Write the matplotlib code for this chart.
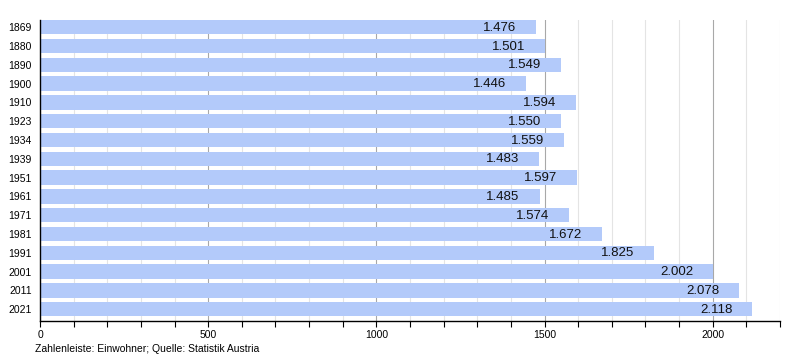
import matplotlib
matplotlib.use("Agg")
import matplotlib.pyplot as plt
from matplotlib.ticker import MultipleLocator
from matplotlib.transforms import offset_copy

years = ["1869", "1880", "1890", "1900", "1910", "1923", "1934", "1939",
         "1951", "1961", "1971", "1981", "1991", "2001", "2011", "2021"]
values = [1476, 1501, 1549, 1446, 1594, 1550, 1559, 1483,
          1597, 1485, 1574, 1672, 1825, 2002, 2078, 2118]
caption = "Zahlenleiste: Einwohner; Quelle: Statistik Austria"

plt.rcParams['font.family'] = ['Liberation Sans', 'DejaVu Sans']

fig = plt.figure(figsize=(8, 3.6), dpi=100)
ax = fig.add_axes([0.05, 0.1092, 0.925, 0.8353])

pos = list(range(len(years)))
ax.barh(pos, values, height=0.77, color='#b3cafa', zorder=2)
ax.set_ylim(len(years) - 0.39, -0.385)
ax.set_xlim(0, 2200)
ax.set_yticks(pos)
ax.set_yticklabels(years, fontsize=7.5)

ax.xaxis.set_major_locator(MultipleLocator(500))
ax.xaxis.set_minor_locator(MultipleLocator(100))
ax.tick_params(axis='x', which='major', labelsize=7.5, length=4, width=0.8, direction='out', pad=3)
ax.tick_params(axis='x', which='minor', length=4, width=0.8, direction='out')
ax.tick_params(axis='y', length=0, pad=6)

ax.grid(axis='x', which='minor', color='#e4e4e4', lw=0.8, zorder=0)
ax.grid(axis='x', which='major', color='#a8a8a8', lw=0.8, zorder=0)

for s in ['top', 'right']:
    ax.spines[s].set_visible(False)
ax.spines['left'].set_linewidth(1.0)
ax.spines['bottom'].set_linewidth(1.0)
ax.spines['left'].set_zorder(3)

trans = offset_copy(ax.transData, fig=fig, x=-20, y=-0.5, units='dots')
for p, v in zip(pos, values):
    lab = f"{v:,}".replace(",", ".")
    ax.text(v, p, lab, transform=trans, ha='right', va='center', fontsize=9.5,
            color='#111111', zorder=4)

fig.text(35 / 800, 1 - 349 / 360, caption, fontsize=7.5, ha='left', va='center')

fig.savefig("out.png", dpi=100)
